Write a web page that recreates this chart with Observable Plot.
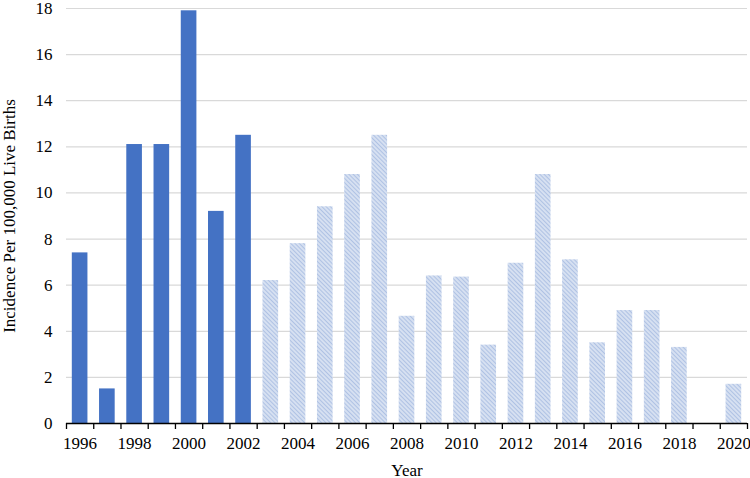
<!DOCTYPE html>
<html>
<head>
<meta charset="utf-8">
<script src="https://cdn.jsdelivr.net/npm/d3@7"></script>
<script src="https://cdn.jsdelivr.net/npm/@observablehq/plot@0.6"></script>
<style>
  html, body { margin: 0; padding: 0; background: #fff; }
  #chart svg { display: block; font-family: "Liberation Serif", "Times New Roman", serif !important; }
  #chart svg text { font-family: "Liberation Serif", "Times New Roman", serif !important; font-size: 17px !important; fill: #000; }
</style>
</head>
<body>
<div id="chart"></div>
<script>
const years = [1996,1997,1998,1999,2000,2001,2002,2003,2004,2005,2006,2007,2008,2009,2010,2011,2012,2013,2014,2015,2016,2017,2018,2019,2020];
const incidence = [7.4,1.5,12.1,12.1,17.9,9.2,12.5,6.2,7.8,9.4,10.8,12.5,4.65,6.4,6.35,3.4,6.95,10.8,7.1,3.5,4.9,4.9,3.3,0,1.7];
const periods = years.map(y => y <= 2002 ? "early" : "late");
const yTicks = [0,2,4,6,8,10,12,14,16,18];
const xLabelYears = [1996,1998,2000,2002,2004,2006,2008,2010,2012,2014,2016,2018,2020];

const data = years.map((y, i) => ({year: y, value: incidence[i], period: periods[i]}));
const halfBar = 0.287;
const boundaries = years.map(y => y - 0.5).concat([years[years.length - 1] + 0.5]);

const chart = Plot.plot({
  width: 750,
  height: 478,
  marginLeft: 66,
  marginRight: 3,
  marginTop: 8,
  marginBottom: 55,
  style: {background: "#fff"},
  x: {domain: [1995.5, 2020.5]},
  y: {domain: [0, 18]},
  marks: [
    Plot.gridY(yTicks, {stroke: "#d9d9d9", strokeOpacity: 1, strokeWidth: 1.2}),
    Plot.rectY(data, {
      x1: d => d.year - halfBar,
      x2: d => d.year + halfBar,
      y: "value",
      fill: d => d.period === "early" ? "#4472c4" : "url(#hatch)"
    }),
    Plot.ruleY([0], {stroke: "#000", strokeWidth: 1.3}),
    Plot.axisX(boundaries, {tickSize: 6, tickFormat: () => "", stroke: "#000", strokeWidth: 1.3, label: null}),
    Plot.axisX(xLabelYears, {tickSize: 0, tickPadding: 13, tickFormat: d => String(d), label: "Year", labelAnchor: "center", labelArrow: "none", labelOffset: 52}),
    Plot.axisY(yTicks, {tickSize: 0, tickPadding: 14, label: "Incidence Per 100,000 Live Births", labelAnchor: "center", labelArrow: "none", labelOffset: 64})
  ]
});

// hatch pattern definition for the later-period bars
const ns = "http://www.w3.org/2000/svg";
const defs = document.createElementNS(ns, "defs");
defs.innerHTML = `
  <pattern id="hatch" patternUnits="userSpaceOnUse" width="3" height="3" patternTransform="rotate(-45)">
    <rect width="3" height="3" fill="#d6e0f1"></rect>
    <line x1="0" y1="0" x2="0" y2="3" stroke="#9fb6df" stroke-width="1.4"></line>
  </pattern>`;
chart.insertBefore(defs, chart.firstChild);

document.getElementById("chart").appendChild(chart);
</script>
</body>
</html>
